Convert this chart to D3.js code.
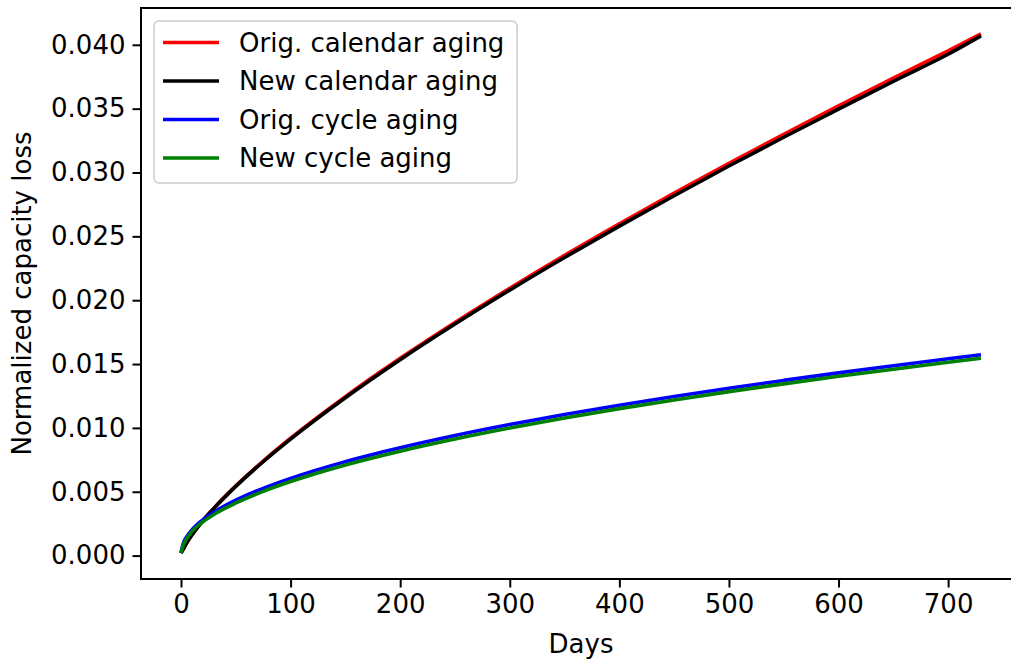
<!DOCTYPE html>
<html>
<head>
<meta charset="utf-8">
<script src="https://cdn.jsdelivr.net/npm/d3@7"></script>
<style>
  body { margin: 0; background: #fff; }
  text { font-family: "DejaVu Sans", sans-serif; fill: #000; }
</style>
</head>
<body>
<div id="chart"></div>
<script>
// days sampled along the curves
const days = [0, 2, 5, 10, 20, 30, 50, 75, 100, 150, 200, 250, 300, 350, 400, 450, 500, 550, 600, 650, 700, 730];

// normalized capacity loss
const origCalendar = [0.0002, 0.0005, 0.00097, 0.00163, 0.00275, 0.00372, 0.00546, 0.0074, 0.00919, 0.01245, 0.01545, 0.01826, 0.02094, 0.02351, 0.02598, 0.02838, 0.03072, 0.03299, 0.03522, 0.0374, 0.03953, 0.04085];
const newCalendar = [0.0002, 0.00049, 0.00096, 0.00162, 0.00273, 0.00369, 0.00542, 0.00735, 0.00912, 0.01236, 0.01534, 0.01813, 0.02079, 0.02334, 0.0258, 0.02818, 0.03051, 0.03276, 0.03497, 0.03714, 0.03926, 0.0407];
const origCycle = [0.0002, 0.00093, 0.00144, 0.00201, 0.0028, 0.0034, 0.00434, 0.00527, 0.00605, 0.00736, 0.00844, 0.0094, 0.01026, 0.01105, 0.01178, 0.01246, 0.01311, 0.01372, 0.01431, 0.01487, 0.01541, 0.01573];
const newCycle = [0.0002, 0.0008, 0.0013, 0.0019, 0.00265, 0.00322, 0.00412, 0.00503, 0.0058, 0.0071, 0.00818, 0.00913, 0.00999, 0.01078, 0.01151, 0.01219, 0.01284, 0.01345, 0.01404, 0.0146, 0.01514, 0.01545];

const seriesNames = ['Orig. calendar aging', 'New calendar aging', 'Orig. cycle aging', 'New cycle aging'];
const seriesColors = ['#ff0000', '#000000', '#0000ff', '#008000'];

const xTicks = [0, 100, 200, 300, 400, 500, 600, 700];
const yTicks = [0, 0.005, 0.01, 0.015, 0.02, 0.025, 0.03, 0.035, 0.04];

const width = 1011;
const height = 660;
const margin = { top: 8, left: 141, right: 1021, bottom: 579 };
const fontSize = 26;

const series = [origCalendar, newCalendar, origCycle, newCycle].map((vals, i) => ({
  name: seriesNames[i],
  color: seriesColors[i],
  points: days.map((d, j) => [d, vals[j]])
}));

// matplotlib style 5% padding around the data
const xMin = d3.min(days), xMax = d3.max(days);
const allVals = series.flatMap(s => s.points.map(p => p[1]));
const yMin = d3.min(allVals), yMax = d3.max(allVals);
const xPad = (xMax - xMin) * 0.05, yPad = (yMax - yMin) * 0.05;

const xScale = d3.scaleLinear()
  .domain([xMin - xPad, xMax + xPad])
  .range([margin.left, margin.right]);
const yScale = d3.scaleLinear()
  .domain([yMin - yPad, yMax + yPad])
  .range([margin.bottom, margin.top]);

const svg = d3.select('#chart')
  .append('svg')
  .attr('width', width)
  .attr('height', height);

const line = d3.line()
  .x(d => xScale(d[0]))
  .y(d => yScale(d[1]))
  .curve(d3.curveMonotoneX);

svg.selectAll('.series')
  .data(series)
  .enter()
  .append('path')
  .classed('series', true)
  .attr('d', d => line(d.points))
  .attr('fill', 'none')
  .attr('stroke', d => d.color)
  .attr('stroke-width', 3.6);

// axes
const xAxis = d3.axisBottom(xScale)
  .tickValues(xTicks)
  .tickSize(8.5)
  .tickPadding(7)
  .tickFormat(d3.format('d'));
const yAxis = d3.axisLeft(yScale)
  .tickValues(yTicks)
  .tickSize(8.5)
  .tickPadding(7)
  .tickFormat(d3.format('.3f'));

const gx = svg.append('g')
  .attr('transform', `translate(0,${margin.bottom})`)
  .call(xAxis);
const gy = svg.append('g')
  .attr('transform', `translate(${margin.left},0)`)
  .call(yAxis);

[gx, gy].forEach(g => {
  g.select('.domain').remove();
  g.selectAll('.tick line').attr('stroke', '#000').attr('stroke-width', 2);
  g.selectAll('.tick text')
    .style('font-size', fontSize + 'px')
    .style('font-family', '"DejaVu Sans", sans-serif')
    .attr('fill', '#000');
});

// frame
svg.append('rect')
  .attr('x', margin.left)
  .attr('y', margin.top)
  .attr('width', margin.right - margin.left)
  .attr('height', margin.bottom - margin.top)
  .attr('fill', 'none')
  .attr('stroke', '#000')
  .attr('stroke-width', 2);

// axis titles
svg.append('text')
  .attr('x', (margin.left + margin.right) / 2)
  .attr('y', 653)
  .style('font-size', fontSize + 'px')
  .style('text-anchor', 'middle')
  .text('Days');

svg.append('text')
  .attr('transform', `translate(31, ${(margin.top + margin.bottom) / 2}) rotate(-90)`)
  .style('font-size', fontSize + 'px')
  .style('text-anchor', 'middle')
  .text('Normalized capacity loss');

// legend
const legend = svg.append('g').attr('transform', 'translate(154,21)');
legend.append('rect')
  .attr('width', 363)
  .attr('height', 162)
  .attr('rx', 5)
  .attr('fill', '#fff')
  .attr('fill-opacity', 0.8)
  .attr('stroke', '#cccccc')
  .attr('stroke-width', 1.5);

const entries = legend.selectAll('.entry')
  .data(series)
  .enter()
  .append('g')
  .classed('entry', true)
  .attr('transform', (d, i) => `translate(0,${21.5 + i * 38.5})`);

entries.append('line')
  .attr('x1', 9)
  .attr('x2', 65)
  .attr('stroke', d => d.color)
  .attr('stroke-width', 3.6);

entries.append('text')
  .attr('x', 85)
  .attr('dy', '0.35em')
  .style('font-size', fontSize + 'px')
  .text(d => d.name);
</script>
</body>
</html>
